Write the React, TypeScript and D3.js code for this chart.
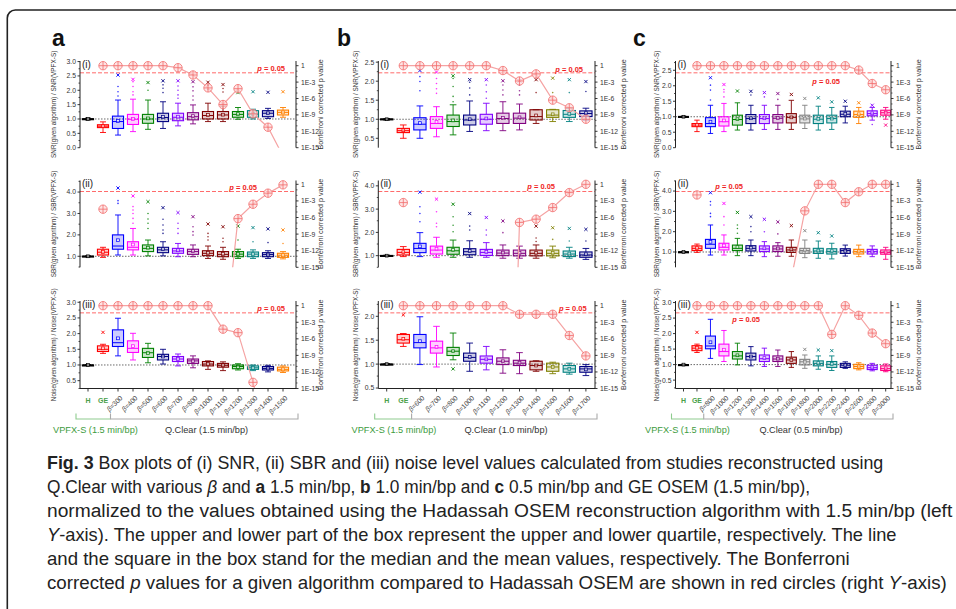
import React, { useLayoutEffect, useRef, useState } from "react";
import * as d3 from "d3";

// ---------- categories ----------
const catsA = ["H", "GE", "β=300", "β=400", "β=500", "β=600", "β=700", "β=800", "β=1000", "β=1100", "β=1200", "β=1300", "β=1400", "β=1500"];
const catsB = ["H", "GE", "β=600", "β=700", "β=800", "β=1000", "β=1100", "β=1200", "β=1300", "β=1400", "β=1500", "β=1600", "β=1700"];
const catsC = ["H", "GE", "β=800", "β=1000", "β=1200", "β=1300", "β=1400", "β=1500", "β=1600", "β=1800", "β=2000", "β=2200", "β=2400", "β=2600", "β=2800", "β=3000"];

const colorsA = ["#000000", "#ff0000", "#0000ff", "#ff00ff", "#008000", "#000080", "#8000ff", "#800080", "#800000", "#800000", "#008000", "#008080", "#000080", "#ff8000"];
const colorsB = ["#000000", "#ff0000", "#0000ff", "#ff00ff", "#008000", "#000080", "#8000ff", "#800080", "#800080", "#800000", "#808000", "#008080", "#000080"];
const colorsC = ["#000000", "#ff0000", "#0000ff", "#ff00ff", "#008000", "#000080", "#8000ff", "#800080", "#800000", "#808080", "#008080", "#008080", "#000080", "#ff8000", "#8000ff", "#ff0080"];

// box stats: [whiskerLow, q1, median, q3, whiskerHigh, mean]
const boxA_SNR = [
  [0.97, 0.99, 1.0, 1.01, 1.03, 1.0], [0.53, 0.7, 0.75, 0.8, 0.9, 0.75], [0.44, 0.67, 0.91, 1.1, 1.66, 0.93],
  [0.56, 0.81, 0.99, 1.16, 1.69, 1.0], [0.64, 0.85, 1.0, 1.16, 1.66, 1.02], [0.67, 0.91, 1.05, 1.2, 1.6, 1.07],
  [0.76, 0.94, 1.06, 1.2, 1.55, 1.08], [0.83, 0.97, 1.08, 1.22, 1.49, 1.1], [0.91, 1.0, 1.12, 1.26, 1.55, 1.14],
  [0.91, 1.0, 1.14, 1.26, 1.45, 1.15], [0.99, 1.06, 1.16, 1.26, 1.4, 1.17], [1.0, 1.06, 1.17, 1.29, 1.34, 1.18],
  [1.02, 1.08, 1.2, 1.29, 1.37, 1.2], [1.06, 1.14, 1.23, 1.31, 1.4, 1.23],
];
const boxA_SBR = [
  [0.98, 0.99, 1.0, 1.01, 1.02, 1.0], [0.95, 1.06, 1.19, 1.33, 1.42, 1.2], [1.06, 1.33, 1.48, 2.0, 2.93, 1.75],
  [1.06, 1.3, 1.42, 1.68, 2.3, 1.55], [1.02, 1.22, 1.37, 1.53, 1.76, 1.4], [1.02, 1.17, 1.3, 1.42, 1.68, 1.33],
  [0.98, 1.14, 1.25, 1.37, 1.6, 1.28], [0.98, 1.09, 1.22, 1.33, 1.53, 1.24], [0.9, 1.03, 1.14, 1.26, 1.48, 1.16],
  [0.86, 0.98, 1.09, 1.22, 1.42, 1.11], [0.9, 0.98, 1.1, 1.22, 1.33, 1.11], [0.9, 0.98, 1.1, 1.2, 1.3, 1.1],
  [0.9, 0.98, 1.08, 1.17, 1.26, 1.08], [0.88, 0.95, 1.05, 1.14, 1.22, 1.05],
];
const boxA_Noise = [
  [0.99, 1.0, 1.0, 1.0, 1.01, 1.0], [1.37, 1.43, 1.5, 1.61, 1.66, 1.53], [1.29, 1.59, 1.71, 2.12, 2.49, 1.85],
  [1.16, 1.4, 1.53, 1.77, 2.01, 1.6], [1.07, 1.24, 1.39, 1.53, 1.69, 1.38], [1.03, 1.16, 1.27, 1.34, 1.5, 1.27],
  [0.97, 1.11, 1.19, 1.27, 1.35, 1.19], [0.91, 1.05, 1.13, 1.19, 1.29, 1.12], [0.86, 0.97, 1.03, 1.11, 1.13, 1.03],
  [0.82, 0.93, 0.99, 1.05, 1.1, 0.99], [0.84, 0.88, 0.95, 1.0, 1.04, 0.94], [0.82, 0.86, 0.91, 0.97, 1.0, 0.91],
  [0.78, 0.84, 0.89, 0.95, 0.99, 0.89], [0.76, 0.81, 0.86, 0.93, 0.97, 0.86],
];
const boxB_SNR = [
  [0.98, 0.99, 1.0, 1.01, 1.02, 1.0], [0.5, 0.65, 0.7, 0.76, 0.85, 0.71], [0.5, 0.72, 0.87, 1.04, 1.35, 0.9],
  [0.54, 0.76, 0.89, 1.07, 1.33, 0.93], [0.59, 0.81, 0.94, 1.11, 1.38, 0.97], [0.68, 0.85, 0.98, 1.11, 1.48, 1.0],
  [0.7, 0.87, 1.0, 1.13, 1.42, 1.02], [0.7, 0.89, 1.02, 1.16, 1.46, 1.04], [0.72, 0.89, 1.03, 1.16, 1.4, 1.05],
  [0.89, 0.98, 1.07, 1.25, 1.25, 1.1], [0.94, 1.05, 1.11, 1.25, 1.26, 1.13], [0.94, 1.05, 1.13, 1.23, 1.29, 1.14],
  [0.98, 1.07, 1.15, 1.22, 1.29, 1.16],
];
const boxB_SBR = [
  [0.98, 0.99, 1.0, 1.01, 1.02, 1.0], [0.96, 1.03, 1.14, 1.27, 1.39, 1.15], [0.96, 1.13, 1.31, 1.53, 1.99, 1.4],
  [0.93, 1.07, 1.24, 1.41, 1.79, 1.3], [0.93, 1.06, 1.21, 1.36, 1.67, 1.25], [0.93, 1.04, 1.17, 1.3, 1.64, 1.2],
  [0.93, 1.01, 1.14, 1.27, 1.56, 1.16], [0.89, 1.0, 1.11, 1.24, 1.46, 1.13], [0.89, 0.99, 1.1, 1.24, 1.41, 1.12],
  [0.89, 0.99, 1.1, 1.24, 1.46, 1.12], [0.91, 0.99, 1.1, 1.24, 1.41, 1.12], [0.89, 0.96, 1.07, 1.2, 1.36, 1.09],
  [0.84, 0.93, 1.03, 1.16, 1.31, 1.06],
];
const boxB_Noise = [
  [0.99, 1.0, 1.0, 1.0, 1.01, 1.0], [1.37, 1.44, 1.51, 1.62, 1.64, 1.53], [0.99, 1.34, 1.45, 1.62, 1.99, 1.48],
  [0.94, 1.23, 1.34, 1.48, 1.79, 1.36], [1.09, 1.18, 1.27, 1.35, 1.65, 1.27], [0.85, 1.06, 1.14, 1.23, 1.44, 1.15],
  [0.88, 1.02, 1.1, 1.17, 1.37, 1.1], [0.81, 0.99, 1.06, 1.13, 1.3, 1.06], [0.8, 0.97, 1.02, 1.08, 1.24, 1.03],
  [0.85, 0.88, 0.97, 1.06, 1.07, 0.97], [0.8, 0.85, 0.94, 1.02, 1.04, 0.94], [0.79, 0.83, 0.9, 0.97, 1.02, 0.9],
  [0.76, 0.83, 0.9, 0.95, 0.99, 0.89],
];
const boxC_SNR = [
  [0.98, 0.99, 1.0, 1.01, 1.02, 1.0], [0.52, 0.68, 0.73, 0.78, 0.89, 0.74], [0.46, 0.68, 0.78, 0.97, 1.37, 0.84],
  [0.52, 0.7, 0.84, 1.0, 1.43, 0.88], [0.57, 0.73, 0.91, 1.05, 1.45, 0.92], [0.57, 0.78, 0.94, 1.07, 1.37, 0.95],
  [0.59, 0.78, 0.94, 1.07, 1.37, 0.95], [0.59, 0.8, 0.95, 1.07, 1.37, 0.96], [0.59, 0.8, 0.98, 1.1, 1.53, 0.98],
  [0.62, 0.8, 0.93, 1.05, 1.37, 0.94], [0.57, 0.78, 0.92, 1.05, 1.34, 0.93], [0.59, 0.8, 0.94, 1.05, 1.3, 0.94],
  [0.8, 1.0, 1.08, 1.18, 1.34, 1.09], [0.78, 0.98, 1.07, 1.18, 1.3, 1.08], [0.89, 1.03, 1.1, 1.19, 1.3, 1.11],
  [0.92, 1.05, 1.13, 1.21, 1.3, 1.13],
];
const boxC_SBR = [
  [0.98, 0.99, 1.0, 1.01, 1.02, 1.0], [0.98, 1.07, 1.18, 1.3, 1.39, 1.19], [0.85, 1.18, 1.38, 1.62, 2.33, 1.5],
  [0.85, 1.1, 1.23, 1.43, 1.84, 1.32], [0.82, 1.07, 1.18, 1.34, 1.67, 1.24], [0.82, 1.05, 1.18, 1.31, 1.59, 1.21],
  [0.77, 1.02, 1.15, 1.3, 1.51, 1.18], [0.79, 1.02, 1.15, 1.3, 1.46, 1.17], [0.79, 0.98, 1.1, 1.23, 1.59, 1.13],
  [0.72, 0.93, 1.07, 1.18, 1.59, 1.09], [0.69, 0.93, 1.05, 1.18, 1.54, 1.07], [0.66, 0.9, 1.03, 1.16, 1.43, 1.04],
  [0.8, 0.93, 1.07, 1.16, 1.34, 1.06], [0.77, 0.9, 1.02, 1.13, 1.34, 1.03], [0.77, 0.9, 1.02, 1.13, 1.3, 1.02],
  [0.64, 0.89, 0.98, 1.1, 1.23, 0.98],
];
const boxC_Noise = [
  [0.99, 1.0, 1.0, 1.0, 1.01, 1.0], [1.39, 1.45, 1.53, 1.61, 1.66, 1.54], [1.2, 1.51, 1.6, 1.92, 2.46, 1.72],
  [1.1, 1.28, 1.42, 1.66, 2.1, 1.48], [0.99, 1.18, 1.28, 1.42, 1.69, 1.3], [0.96, 1.15, 1.26, 1.37, 1.58, 1.26],
  [0.94, 1.1, 1.19, 1.31, 1.53, 1.21], [0.94, 1.1, 1.18, 1.28, 1.47, 1.19], [0.91, 1.04, 1.15, 1.24, 1.42, 1.15],
  [0.88, 0.99, 1.09, 1.17, 1.31, 1.09], [0.85, 0.96, 1.04, 1.12, 1.28, 1.05], [0.81, 0.91, 1.01, 1.1, 1.28, 1.02],
  [0.88, 0.91, 0.98, 1.04, 1.09, 0.98], [0.83, 0.87, 0.94, 1.01, 1.06, 0.94], [0.8, 0.84, 0.9, 0.98, 1.04, 0.91],
  [0.77, 0.81, 0.87, 0.96, 1.02, 0.88],
];

// outlier points (first = extreme marked with x)
const outA_SNR = [[], [], [2.53, 2.13, 1.95, 1.8], [2.38, 2.3, 2.13, 1.95, 1.84], [2.27, 2.0], [2.33, 2.19, 2.07, 1.92], [2.33, 2.15, 2.0, 1.84, 1.72], [2.3, 2.12, 1.98, 1.8, 1.66], [2.28, 2.17, 2.04], [2.2, 2.06, 1.94], [1.92], [1.95], [1.93], [1.95]];
const outA_SBR = [[], [], [4.19, 3.6, 3.47], [3.82, 3.32, 3.16, 3.0, 2.77, 2.54], [3.55, 3.0, 2.74, 2.54, 2.3], [3.27, 2.73, 2.46, 2.23, 2.07], [3.04, 2.54, 2.3, 2.07], [2.85, 2.38, 2.15, 1.99], [2.51, 2.07, 1.91, 1.76], [2.38, 1.84, 1.68], [2.41, 1.76], [2.34, 1.68], [2.28, 1.64], [2.23, 1.6]];
const outA_Noise = [[], [2.04], [], [], [], [], [], [], [], [], [], [], [], []];
const outB_SNR = [[], [], [2.28, 2.12, 1.99, 1.75], [2.24, 2.07, 1.94, 1.8, 1.68], [2.14, 2.07, 1.86, 1.6, 1.46], [2.04, 1.97, 1.82, 1.64], [2.04, 1.9, 1.72, 1.55], [2.01, 1.9, 1.77, 1.64], [2.01, 1.9, 1.75, 1.64], [2.04, 1.7], [2.08, 1.7], [2.04, 1.7], [1.99, 1.73]];
const outB_SBR = [[], [], [3.73, 3.1, 2.81, 2.46], [3.43, 2.89, 2.39, 2.24], [3.21, 2.67, 2.31, 2.03], [2.81, 2.27, 2.1], [2.64, 2.1, 1.89], [2.49, 1.99], [], [2.27, 1.76, 1.61], [2.2, 1.7], [2.17, 1.63], [2.13, 1.63]];
const outB_Noise = [[], [2.03], [], [], [0.9], [], [], [], [], [], [], [], []];
const outC_SNR = [[], [], [2.26, 2.02, 1.86, 1.54], [2.04, 1.88, 1.8, 1.64], [1.83], [1.82, 1.7], [1.78, 1.64], [1.75, 1.56], [1.72], [1.59], [1.61], [1.48], [1.5], [1.45], [1.37, 0.75], [0.73]];
const outC_SBR = [[], [], [3.92, 3.48, 3.31, 2.9, 2.74], [3.39, 2.74, 2.33], [2.95, 2.33, 2.16, 1.92], [2.74, 2.25, 2.0], [2.61, 2.0], [2.48, 1.89], [2.3], [2.05], [1.95], [1.79], [], [], [], []];
const outC_Noise = [[], [2.04], [], [], [], [], [], [], [], [1.49], [1.47], [1.45], [], [], [], []];

// Bonferroni corrected p values (null = not plotted)
const pA_SNR = [null, 1, 1, 1, 1, 1, 0.43, 0.02, 8.7e-5, 7.9e-8, 6.3e-5, 1.6e-9, 5.6e-12, 3e-17];
const pA_SBR = [null, 3.2e-5, null, null, null, null, null, null, null, 1e-31, 6.3e-7, 2.5e-4, 2.5e-2, 0.8];
const pA_Noise = [null, 1, 1, 1, 1, 1, 1, 1, 1, 5.6e-5, 1.3e-5, 1.3e-14, 1e-25, null];
const pB_SNR = [null, 1, 1, 1, 1, 1, 1, 0.13, 1.6e-3, 3.2e-2, 5e-7, 2e-8, 1.6e-10];
const pB_SBR = [null, 5e-4, null, null, null, null, null, 1e-100, 1.3e-7, 5e-7, 6.3e-5, 3.2e-2, 1];
const pB_Noise = [null, 1, 1, 1, 1, 1, 1, 1, 2.8e-2, 2.8e-2, 2.8e-2, 4e-6, 8e-10];
const pC_SNR = [null, 1, 1, 1, 1, 1, 1, 1, 1, 1, 1, 1, 1, 0.16, 5.5e-4, 4e-5];
const pC_SBR = [null, 1.2e-2, null, null, null, null, null, null, 1e-17, 1.6e-5, 1, 1, 5e-4, 4.5e-2, 1, 1];
const pC_Noise = [null, 1, 1, 1, 1, 1, 1, 1, 1, 1, 1, 6.3e-6, 1, 1.8e-2, 1.1e-5, 1.3e-7];

// axis tick labels
const ticksA = [[0, 0.5, 1, 1.5, 2, 2.5, 3], [1, 2, 3, 4], [0.5, 1, 1.5, 2, 2.5, 3]];
const ticksB = [[0.5, 1, 1.5, 2, 2.5], [1, 2, 3, 4], [0.5, 1, 1.5, 2]];
const ticksC = [[0, 0.5, 1, 1.5, 2, 2.5], [1, 2, 3, 4], [0.5, 1, 1.5, 2, 2.5, 3]];
const domA = [[0, 3.02], [0.486, 4.54], [0.25, 3.04]];
const domB = [[0.253, 2.53], [0.5, 4.23], [0.49, 2.32]];
const domC = [[0, 2.8], [0.246, 4.52], [0.23, 3.05]];
const pTicks = [1, 1e-3, 1e-6, 1e-9, 1e-12, 1e-15];
const pTickLabels = ["1", "1E-3", "1E-6", "1E-9", "1E-12", "1E-15"];
const rowTitles = ["SNR(given algorithm) / SNR(VPFX-S)", "SBR(given algorithm) / SBR(VPFX-S)", "Noise(given algorithm) / Noise(VPFX-S)"];
const rowTags = ["(i)", "(ii)", "(iii)"];
const panelLetters = ["a", "b", "c"];
const qclearLabels = ["Q.Clear (1.5 min/bp)", "Q.Clear (1.0 min/bp)", "Q.Clear (0.5 min/bp)"];

const panels = [
  { cats: catsA, colors: colorsA, boxes: [boxA_SNR, boxA_SBR, boxA_Noise], outs: [outA_SNR, outA_SBR, outA_Noise], ps: [pA_SNR, pA_SBR, pA_Noise], ticks: ticksA, dom: domA },
  { cats: catsB, colors: colorsB, boxes: [boxB_SNR, boxB_SBR, boxB_Noise], outs: [outB_SNR, outB_SBR, outB_Noise], ps: [pB_SNR, pB_SBR, pB_Noise], ticks: ticksB, dom: domB },
  { cats: catsC, colors: colorsC, boxes: [boxC_SNR, boxC_SBR, boxC_Noise], outs: [outC_SNR, outC_SBR, outC_Noise], ps: [pC_SNR, pC_SBR, pC_Noise], ticks: ticksC, dom: domC },
];

// ---------- layout ----------
const PANEL_GEO = [
  { left: 80, right: 296, first: 88, last: 283, letterX: 52, ytX: 53.5, rtX: 320, vpX: 95.5, qcX: 206.5 },
  { left: 378.3, right: 595, first: 386.7, last: 585.9, letterX: 337, ytX: 356, rtX: 623, vpX: 394, qcX: 506 },
  { left: 675.5, right: 891, first: 683.5, last: 885.7, letterX: 633, ytX: 656.7, rtX: 918, vpX: 687.5, qcX: 801 },
];
const ROW_GEO = [
  { top: 61, bottom: 147.7, rTop: 0.86 },
  { top: 180.5, bottom: 267.3, rTop: 0.69 },
  { top: 301, bottom: 388.5, rTop: 0.85 },
];
const P_LABEL = [
  [[285, 70.5], [257, 190], [285, 311]],
  [[583, 71.5], [555, 188.5], [586.7, 311]],
  [[840, 83.5], [743, 188.5], [760, 322]],
];

const FONT = "'Liberation Sans', Arial, sans-serif";
const P_RED = "#f26d6d";

function Plot({ pi, ri }: { pi: number; ri: number }) {
  const g = PANEL_GEO[pi];
  const r = ROW_GEO[ri];
  const P = panels[pi];
  const n = P.cats.length;
  const x = d3.scaleLinear().domain([0, n - 1]).range([g.first, g.last]);
  const y = d3.scaleLinear().domain(P.dom[ri]).range([r.bottom, r.top]);
  const yr = d3.scaleLog().domain([1e-15, Math.pow(10, r.rTop)]).range([r.bottom, r.top]);
  const step = x(1) - x(0);
  const bw = step * 0.74;
  const cw = step * 0.4;
  const boxes = P.boxes[ri];
  const outs = P.outs[ri];
  const ps = P.ps[ri];
  const ticks = P.ticks[ri];
  const [d0, d1] = P.dom[ri];
  const tstep = ticks[1] - ticks[0];
  const minor: number[] = [];
  for (let v = ticks[0] - tstep / 2; v <= d1 + 1e-9; v += tstep / 2) {
    if (v >= d0 - 1e-9 && !ticks.some((t) => Math.abs(t - v) < 1e-6)) minor.push(v);
  }
  const minorP: number[] = [];
  for (let e = -15; e <= 0; e++) if (e % 3 !== 0) minorP.push(Math.pow(10, e));
  const line = d3
    .line<number | null>()
    .defined((d) => d != null)
    .x((_, i) => x(i))
    .y((d) => yr(d as number));
  const clipId = `clip-${pi}-${ri}`;
  const [plx, ply] = P_LABEL[pi][ri];
  const midY = (r.top + r.bottom) / 2;
  return (
    <g>
      <defs>
        <clipPath id={clipId}>
          <rect x={g.left} y={r.top} width={g.right - g.left} height={r.bottom - r.top} />
        </clipPath>
      </defs>
      {/* reference lines */}
      <line x1={g.left} x2={g.right} y1={y(1)} y2={y(1)} stroke="#444" strokeWidth={0.8} strokeDasharray="1.5 1.5" />
      <line x1={g.left} x2={g.right} y1={yr(0.05)} y2={yr(0.05)} stroke="#ff5a5a" strokeWidth={0.9} strokeDasharray="4 2" />
      {/* boxes */}
      {boxes.map((b, i) => {
        const c = P.colors[i];
        const cx = x(i);
        const [lo, q1, med, q3, hi, mean] = b;
        return (
          <g key={i} stroke={c} fill="none">
            <line x1={cx} x2={cx} y1={y(hi)} y2={y(q3)} strokeWidth={0.9} />
            <line x1={cx} x2={cx} y1={y(q1)} y2={y(lo)} strokeWidth={0.9} />
            <line x1={cx - cw / 2} x2={cx + cw / 2} y1={y(hi)} y2={y(hi)} strokeWidth={0.9} />
            <line x1={cx - cw / 2} x2={cx + cw / 2} y1={y(lo)} y2={y(lo)} strokeWidth={0.9} />
            <rect x={cx - bw / 2} y={y(q3)} width={bw} height={Math.max(1, y(q1) - y(q3))} strokeWidth={1.1} fill={c} fillOpacity={0.2} />
            <line x1={cx - bw / 2} x2={cx + bw / 2} y1={y(med)} y2={y(med)} strokeWidth={1} />
            <rect x={cx - 1.4} y={y(mean) - 1.4} width={2.8} height={2.8} strokeWidth={0.7} fill="#fff" fillOpacity={0.5} />
            {outs[i].map((v, k) =>
              k === 0 ? (
                <path key={k} d={`M${cx - 1.6},${y(v) - 1.6}L${cx + 1.6},${y(v) + 1.6}M${cx - 1.6},${y(v) + 1.6}L${cx + 1.6},${y(v) - 1.6}`} strokeWidth={0.9} />
              ) : (
                <circle key={k} cx={cx} cy={y(v)} r={0.8} fill={c} stroke="none" opacity={0.8} />
              )
            )}
          </g>
        );
      })}
      {/* p-values */}
      <path d={line(ps as (number | null)[]) || ""} fill="none" stroke="#f5a3a3" strokeWidth={1.2} clipPath={`url(#${clipId})`} />
      {ps.map((p, i) => {
        if (p == null || p < 1e-15) return null;
        const cx = x(i);
        const cy = yr(p);
        return (
          <g key={i} stroke={P_RED} strokeWidth={0.8}>
            <circle cx={cx} cy={cy} r={4.2} fill="#fcd9d9" fillOpacity={0.7} />
            <line x1={cx - 4.2} x2={cx + 4.2} y1={cy} y2={cy} />
            <line x1={cx} x2={cx} y1={cy - 4.2} y2={cy + 4.2} />
          </g>
        );
      })}
      <text x={plx} y={ply} textAnchor="end" fontSize={7.5} fontWeight="bold" fill="#f01e1e" fontFamily={FONT}>
        <tspan fontStyle="italic">p</tspan> = 0.05
      </text>
      {/* left axis */}
      <line x1={g.left} x2={g.left} y1={r.top} y2={r.bottom} stroke="#222" strokeWidth={1} />
      {ticks.map((t) => (
        <g key={t}>
          <line x1={g.left - 2.5} x2={g.left} y1={y(t)} y2={y(t)} stroke="#222" strokeWidth={0.9} />
          <text x={g.left - 4} y={y(t) + 2.4} textAnchor="end" fontSize={6.8} fill="#333" fontFamily={FONT}>
            {d3.format(".1f")(t)}
          </text>
        </g>
      ))}
      {minor.map((t) => (
        <line key={t} x1={g.left - 1.5} x2={g.left} y1={y(t)} y2={y(t)} stroke="#222" strokeWidth={0.8} />
      ))}
      {/* right axis */}
      <line x1={g.right} x2={g.right} y1={r.top} y2={r.bottom} stroke="#222" strokeWidth={1} />
      {pTicks.map((t, k) => (
        <g key={k}>
          <line x1={g.right} x2={g.right + 2.5} y1={yr(t)} y2={yr(t)} stroke="#222" strokeWidth={0.9} />
          <text x={g.right + 5} y={yr(t) + 2.4} fontSize={6.8} fill="#333" fontFamily={FONT}>
            {pTickLabels[k]}
          </text>
        </g>
      ))}
      {minorP.map((t, k) => (
        <line key={k} x1={g.right} x2={g.right + 1.5} y1={yr(t)} y2={yr(t)} stroke="#222" strokeWidth={0.7} />
      ))}
      {/* bottom axis for last row */}
      {ri === 2 && (
        <g>
          <line x1={g.left} x2={g.right} y1={r.bottom} y2={r.bottom} stroke="#222" strokeWidth={1} />
          {P.cats.map((c, i) => (
            <line key={i} x1={x(i)} x2={x(i)} y1={r.bottom} y2={r.bottom + 3} stroke="#222" strokeWidth={0.9} />
          ))}
          {P.cats.map((c, i) =>
            i < 2 ? (
              <text key={c} x={x(i)} y={r.bottom + 14} textAnchor="middle" fontSize={7} fontWeight="bold" fill="#4aa04a" fontFamily={FONT}>
                {c}
              </text>
            ) : (
              <text key={c} transform={`translate(${x(i) + 5},${r.bottom + 10}) rotate(-45)`} textAnchor="end" fontSize={6.8} fill="#444" fontFamily={FONT}>
                <tspan fontStyle="italic">β</tspan>
                {c.slice(1)}
              </text>
            )
          )}
          {/* brackets */}
          <path
            d={`M${x(0) - 12},${r.bottom + 25}V${r.bottom + 30.5}H${(x(1) + x(2)) / 2}`}
            fill="none"
            stroke="#8fcc8f"
            strokeWidth={1.1}
          />
          <path
            d={`M${(x(1) + x(2)) / 2},${r.bottom + 25}V${r.bottom + 30.5}H${g.right + 2}V${r.bottom + 25}`}
            fill="none"
            stroke="#aaa"
            strokeWidth={1.1}
          />
          <text x={g.vpX} y={r.bottom + 44} textAnchor="middle" fontSize={9.2} fill="#3d9b3d" fontFamily={FONT}>
            VPFX-S (1.5 min/bp)
          </text>
          <text x={g.qcX} y={r.bottom + 44} textAnchor="middle" fontSize={9.2} fill="#333" fontFamily={FONT}>
            {qclearLabels[pi]}
          </text>
        </g>
      )}
      {/* tag */}
      <text x={g.left + 2} y={r.top + 6.5} fontSize={10} fill="#222" fontFamily={FONT}>
        {rowTags[ri]}
      </text>
      {/* axis titles */}
      <text transform={`translate(${g.ytX + 2.3},${midY}) rotate(-90)`} textAnchor="middle" fontSize={6.4} fill="#333" fontFamily={FONT}>
        {rowTitles[ri]}
      </text>
      <text transform={`translate(${g.rtX + 2.6},${midY}) rotate(-90)`} textAnchor="middle" fontSize={7.2} fill="#333" fontFamily={FONT}>
        Bonferroni corrected p value
      </text>
    </g>
  );
}

type Seg = [string, string];
const captionLines: Seg[][] = [
  [["Fig. 3", "b"], [" Box plots of (i) SNR, (ii) SBR and (iii) noise level values calculated from studies reconstructed using", ""]],
  [["Q.Clear with various ", ""], ["β", "i"], [" and ", ""], ["a", "b"], [" 1.5 min/bp, ", ""], ["b", "b"], [" 1.0 min/bp and ", ""], ["c", "b"], [" 0.5 min/bp and GE OSEM (1.5 min/bp),", ""]],
  [["normalized to the values obtained using the Hadassah OSEM reconstruction algorithm with 1.5 min/bp (left", ""]],
  [["Y", "i"], ["-axis). The upper and lower part of the box represent the upper and lower quartile, respectively. The line", ""]],
  [["and the square in the box stand for the median and the mean values, respectively. The Bonferroni", ""]],
  [["corrected ", ""], ["p", "i"], [" values for a given algorithm compared to Hadassah OSEM are shown in red circles (right ", ""], ["Y", "i"], ["-axis)", ""]],
];
const captionWidths = [837, 764, 906, 850, 803, 900];

function Caption() {
  const refs = useRef<(SVGTextElement | null)[]>([]);
  const [scales, setScales] = useState<number[]>(captionLines.map(() => 1));
  useLayoutEffect(() => {
    const s = captionLines.map((_, i) => {
      const el = refs.current[i];
      if (!el) return 1;
      const w = el.getBBox().width;
      return w > 0 ? captionWidths[i] / w : 1;
    });
    setScales(s);
  }, []);
  return (
    <g>
      {captionLines.map((segs, li) => (
        <g key={li} transform={`translate(47,${469 + li * 24}) scale(${scales[li]},1)`}>
          <text
            ref={(el) => {
              refs.current[li] = el;
            }}
            x={0}
            y={0}
            fontSize={18}
            fill="#222"
            fontFamily="'Liberation Sans Narrow', 'Liberation Sans', Arial, sans-serif"
            style={{ whiteSpace: "pre" }}
          >
            {segs.map(([t, s], k) => (
              <tspan key={k} fontWeight={s === "b" ? "bold" : "normal"} fontStyle={s === "i" ? "italic" : "normal"}>
                {t}
              </tspan>
            ))}
          </text>
        </g>
      ))}
    </g>
  );
}

export default function App() {
  return (
    <svg width={956} height={609} style={{ position: "absolute", left: 0, top: 0, background: "#fff" }}>
      <rect x={0} y={0} width={956} height={609} fill="#fff" />
      <path d="M7.3,609V18A8,8 0 0 1 15.3,10H956" fill="none" stroke="#222" strokeWidth={1.6} />
      {panelLetters.map((l, pi) => (
        <text key={l} x={PANEL_GEO[pi].letterX} y={46} fontSize={23} fontWeight="bold" fill="#111" fontFamily={FONT}>
          {l}
        </text>
      ))}
      {[0, 1, 2].map((pi) => [0, 1, 2].map((ri) => <Plot key={`${pi}-${ri}`} pi={pi} ri={ri} />))}
      <Caption />
    </svg>
  );
}
